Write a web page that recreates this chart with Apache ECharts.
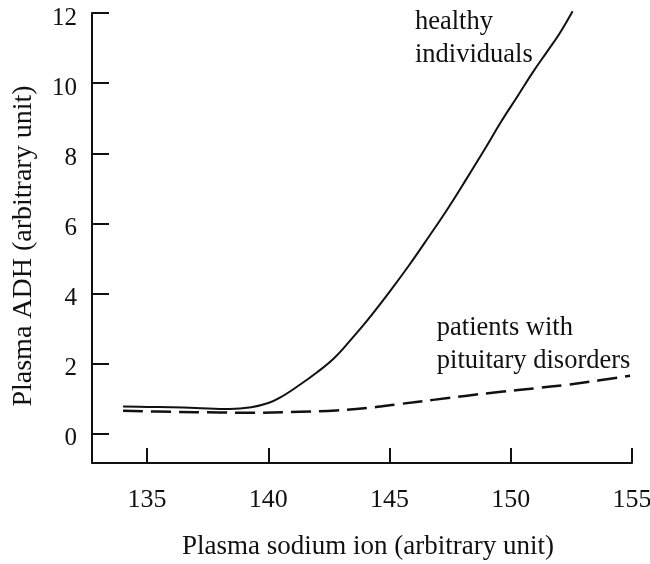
<!DOCTYPE html>
<html>
<head>
<meta charset="utf-8">
<script src="https://cdn.jsdelivr.net/npm/echarts@6/dist/echarts.min.js"></script>
<style>
  html, body { margin: 0; padding: 0; background: #fff; }
  #main { width: 650px; height: 564px; }
</style>
</head>
<body>
<div id="main"></div>
<script>
// 数据
var xTicks = [135, 140, 145, 150, 155];
var yTicks = [0, 2, 4, 6, 8, 10, 12];

// healthy individuals (solid)
var healthyX = [134.01, 135, 136, 137, 138.4, 139.3, 140, 140.5, 141.3, 142, 142.7, 143.4, 144.1, 145, 145.8, 146.6, 147.4, 148.2, 149, 149.6, 150.3, 150.9, 151.5, 152, 152.55];
var healthyY = [0.78, 0.77, 0.76, 0.74, 0.71, 0.76, 0.88, 1.04, 1.4, 1.75, 2.15, 2.68, 3.25, 4.05, 4.8, 5.6, 6.42, 7.3, 8.2, 8.9, 9.65, 10.3, 10.9, 11.4, 12.05];

// patients with pituitary disorders (dashed)
var patientX = [134.01, 136, 138, 139.3, 141.3, 142.8, 144.1, 145.4, 146.8, 148.2, 149.6, 151, 152.3, 153.6, 154.92];
var patientY = [0.66, 0.63, 0.61, 0.6, 0.63, 0.67, 0.74, 0.85, 0.97, 1.09, 1.2, 1.3, 1.4, 1.52, 1.66];

var notes = [
  { text: 'healthy\nindividuals', x: 146.05, y: 12.2 },
  { text: 'patients with\npituitary disorders', x: 146.95, y: 3.5 }
];

function pairs(xs, ys) {
  var out = [];
  for (let i = 0; i < xs.length; i++) {
    out.push([xs[i], ys[i]]);
  }
  return out;
}

var font = '"Liberation Serif", "Times New Roman", serif';
var chart = echarts.init(document.getElementById('main'), null, { renderer: 'canvas' });

var option = {
  backgroundColor: '#fff',
  animation: false,
  grid: {
    left: 92,
    right: 18,
    top: 13,
    bottom: 101,
    outerBoundsMode: 'none'
  },
  xAxis: {
    type: 'value',
    min: 132.73,
    max: 155,
    name: 'Plasma sodium ion (arbitrary unit)',
    nameLocation: 'middle',
    nameGap: 70,
    nameTextStyle: { fontFamily: font, fontSize: 27, color: '#111', padding: [0, 0, 0, 12] },
    axisLine: { show: true, onZero: false, lineStyle: { color: '#111', width: 2 } },
    axisTick: { show: true, inside: true, length: 15, customValues: xTicks, lineStyle: { color: '#111', width: 2 } },
    axisLabel: { customValues: xTicks, margin: 24, fontFamily: font, fontSize: 26, color: '#111' },
    splitLine: { show: false }
  },
  yAxis: {
    type: 'value',
    min: -0.83,
    max: 12,
    name: 'Plasma ADH (arbitrary unit)',
    nameLocation: 'middle',
    nameGap: 54,
    nameRotate: 90,
    nameTextStyle: { fontFamily: font, fontSize: 28, color: '#111', padding: [0, 16, 0, 0] },
    axisLine: { show: true, onZero: false, lineStyle: { color: '#111', width: 2 } },
    axisTick: { show: true, inside: true, length: 17, customValues: yTicks, lineStyle: { color: '#111', width: 2 } },
    axisLabel: {
      customValues: yTicks,
      margin: 15,
      formatter: '{v|{value}}',
      rich: { v: { fontFamily: font, fontSize: 25, color: '#111', padding: [10, 0, 0, 0] } }
    },
    splitLine: { show: false }
  },
  series: [
    {
      name: 'healthy individuals',
      type: 'line',
      data: pairs(healthyX, healthyY),
      smooth: 0.4,
      symbol: 'none',
      clip: false,
      lineStyle: { color: '#111', width: 2 }
    },
    {
      name: 'patients with pituitary disorders',
      type: 'line',
      data: pairs(patientX, patientY),
      smooth: 0.4,
      symbol: 'none',
      clip: false,
      lineStyle: { color: '#111', width: 2.5, type: [20, 8] }
    }
  ]
};
chart.setOption(option);

// 注释文字
var graphics = notes.map(function (n) {
  var p = chart.convertToPixel({ gridIndex: 0 }, [n.x, n.y]);
  return {
    type: 'text',
    x: p[0],
    y: p[1],
    style: {
      text: n.text,
      fontFamily: font,
      fontSize: 26.5,
      lineHeight: 33,
      fill: '#111'
    }
  };
});
chart.setOption({ graphic: graphics });
</script>
</body>
</html>
